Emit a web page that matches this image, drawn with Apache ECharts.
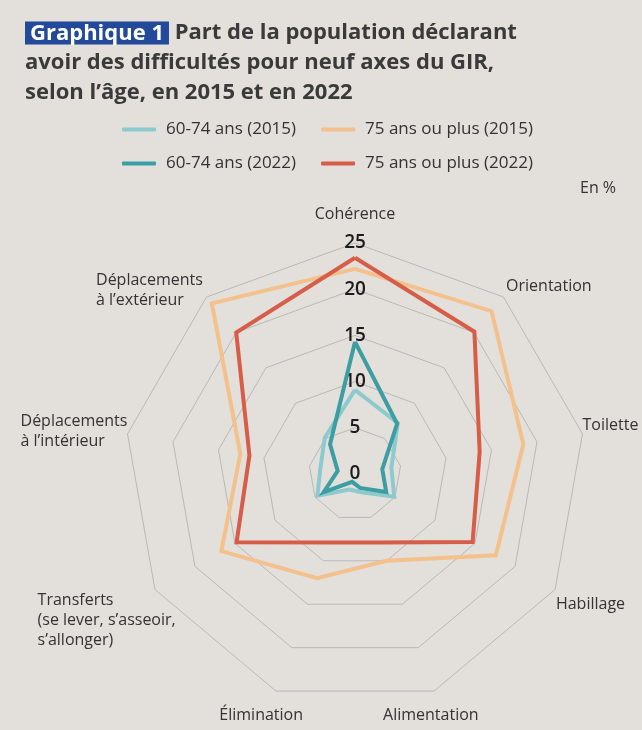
<!DOCTYPE html>
<html>
<head>
<meta charset="utf-8">
<script src="https://cdn.jsdelivr.net/npm/echarts@6/dist/echarts.min.js"></script>
<style>
  html, body { margin: 0; padding: 0; background: #e3dfdb; }
  #chart { width: 642px; height: 730px; }
</style>
</head>
<body>
<div id="chart"></div>
<script>
// Axes in clockwise order starting from the top
const axes = ['Cohérence', 'Orientation', 'Toilette', 'Habillage', 'Alimentation',
  'Élimination', 'Transferts', 'Déplacements à l’intérieur', 'Déplacements à l’extérieur'];
const seriesNames = ['60-74 ans (2015)', '75 ans ou plus (2015)', '60-74 ans (2022)', '75 ans ou plus (2022)'];
// values in % (same clockwise order as axes)
const age6074_2015 = [9.1, 7.2, 4.0, 4.9, 2.1, 1.8, 4.7, 3.8, 5.1];
const age75_2015   = [22.2, 23.0, 18.5, 17.6, 10.0, 12.0, 16.7, 12.6, 24.1];
const age6074_2022 = [14.3, 7.1, 3.0, 3.9, 1.6, 0.9, 3.9, 1.9, 4.2];
const age75_2022   = [23.4, 20.1, 13.7, 14.7, 7.9, 7.9, 14.8, 11.6, 20.0];
const axisMin = 0, axisMax = 25, axisSplit = 5;

const FONT = 'Open Sans';
const colors = ['#8dcacd', '#f4c08c', '#3c9da2', '#d65d47'];

// ECharts radar lays indicators counter-clockwise: reorder to get clockwise layout
const order = [0, 8, 7, 6, 5, 4, 3, 2, 1];
const reorder = arr => order.map(i => arr[i]);

const lineTok = (w) => ({ width: w, align: 'left', fontFamily: FONT, fontSize: 16, color: '#333', lineHeight: 20 });

const nameCfg = {
  'Cohérence': { nameGap: 21, nameTextStyle: { align: 'center', verticalAlign: 'bottom' } },
  'Orientation': { nameGap: 4, nameTextStyle: { align: 'left', verticalAlign: 'bottom' } },
  'Toilette': { nameGap: 0, nameTextStyle: { align: 'left', verticalAlign: 'bottom' } },
  'Habillage': { nameGap: 1, nameTextStyle: { align: 'left', verticalAlign: 'top', padding: [6, 0, 0, 0] } },
  'Alimentation': { nameGap: 17, nameTextStyle: { align: 'center', verticalAlign: 'top', padding: [0, 18, 0, 0] } },
  'Élimination': { nameGap: 17, nameTextStyle: { align: 'center', verticalAlign: 'top', padding: [0, 18, 0, 0] } },
  'Transferts': { nameGap: 57, label: '{l|Transferts}\n{l|(se lever, s’asseoir,}\n{l|s’allonger)}', w: 136,
    nameTextStyle: { align: 'center', verticalAlign: 'middle', padding: [4, 0, 0, 0] } },
  'Déplacements à l’intérieur': { nameGap: 1, label: '{l|Déplacements}\n{l|à l’intérieur}', w: 106,
    nameTextStyle: { align: 'right', verticalAlign: 'middle', padding: [0, 0, 4, 0] } },
  'Déplacements à l’extérieur': { nameGap: 7, label: '{l|Déplacements}\n{l|à l’extérieur}', w: 106,
    nameTextStyle: { align: 'right', verticalAlign: 'middle', padding: [0, 0, 2, 0] } }
};

const indicators = reorder(axes).map((name, k) => {
  const c = nameCfg[name];
  const ind = {
    name: c.label || name,
    min: axisMin, max: axisMax,
    nameGap: c.nameGap,
    nameTextStyle: Object.assign({ fontFamily: FONT, fontSize: 16, color: '#333',
      rich: { l: lineTok(c.w || 100) } }, c.nameTextStyle)
  };
  if (k === 0) {
    ind.axisLabel = { show: true, margin: 0, align: 'center', verticalAlign: 'middle',
      fontFamily: FONT, fontSize: 19, fontWeight: 600, color: '#1c1c1c' };
  }
  return ind;
});

const dataSets = [age6074_2015, age75_2015, age6074_2022, age75_2022];
const zOrder = [1, 2, 3, 4];

const legendBase = {
  left: 117, icon: 'roundRect', itemWidth: 34, itemHeight: 4, itemGap: 25,
  textStyle: { fontFamily: FONT, fontSize: 17, color: '#333', padding: [0, 0, 0, 5] }
};

const chart = echarts.init(document.getElementById('chart'), null, { renderer: 'canvas' });
chart.setOption({
  backgroundColor: '#e3dfdb',
  animation: false,
  title: [{
    left: 20, top: 13,
    text: '{a|Graphique 1}{b| Part de la population déclarant}\n{b|avoir des difficultés pour neuf axes du GIR,}\n{b|selon l’âge, en 2015 et en 2022}',
    textStyle: {
      rich: {
        a: { backgroundColor: '#23499b', color: '#ffffff', fontFamily: FONT, fontSize: 22, fontWeight: 'bold',
             padding: [1, 5, 0, 5], lineHeight: 30 },
        b: { color: '#3a3a3a', fontFamily: FONT, fontSize: 22, fontWeight: 'bold', lineHeight: 30 }
      }
    }
  }, {
    text: 'En %', left: 575, top: 175,
    textStyle: { fontFamily: FONT, fontSize: 16, fontWeight: 'normal', color: '#333' }
  }],
  legend: [
    Object.assign({ data: [seriesNames[0], seriesNames[1]], top: 116 }, legendBase),
    Object.assign({ data: [seriesNames[2], seriesNames[3]], top: 150 }, legendBase)
  ],
  radar: {
    center: [355, 474],
    radius: 231,
    startAngle: 90,
    shape: 'polygon',
    splitNumber: axisSplit,
    indicator: indicators,
    axisName: { fontFamily: FONT, fontSize: 16, color: '#333' },
    axisLine: { show: false },
    axisTick: { show: false },
    axisLabel: { show: false },
    splitArea: { show: false },
    splitLine: { lineStyle: { color: '#b9b9b9', width: 1 } }
  },
  series: dataSets.map((d, i) => ({
    name: seriesNames[i],
    type: 'radar',
    z: zOrder[i],
    symbol: 'none',
    color: colors[i],
    lineStyle: { color: colors[i], width: 4, join: 'miter' },
    data: [{ value: reorder(d), name: seriesNames[i] }]
  }))
});
</script>
</body>
</html>
